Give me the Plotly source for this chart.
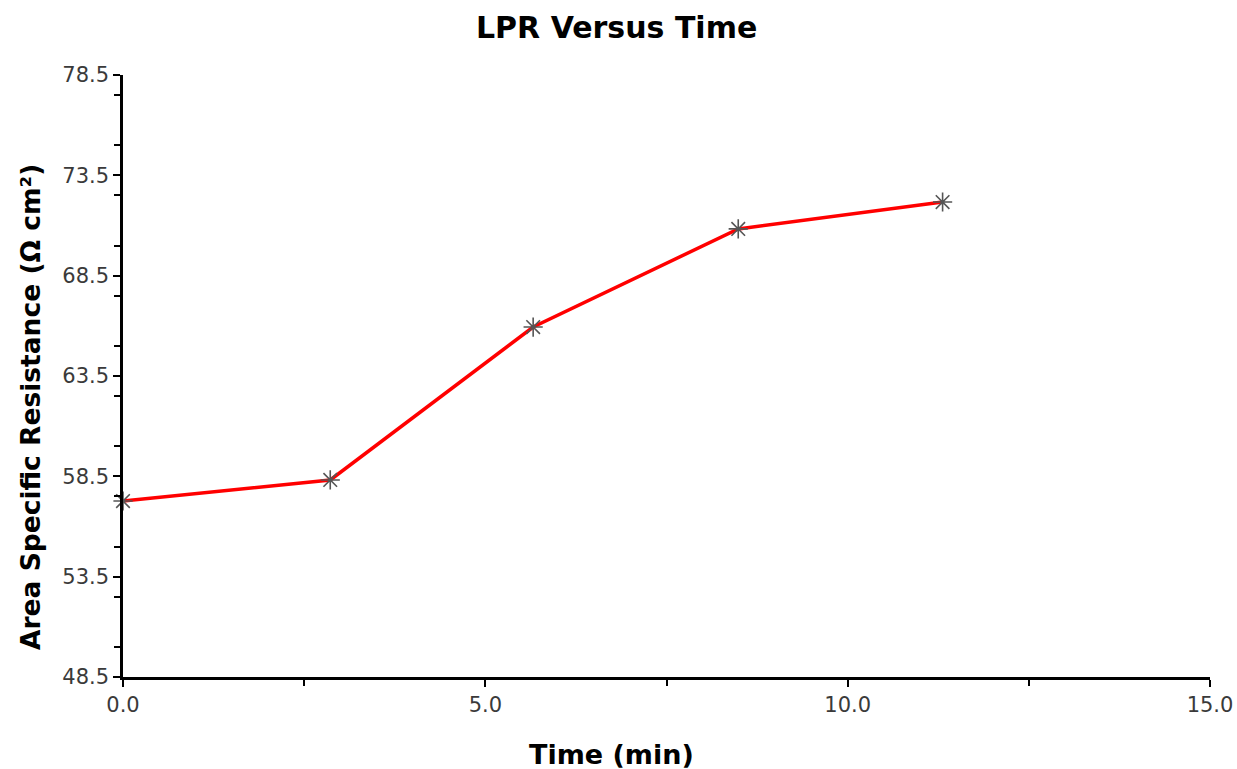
import plotly.graph_objects as go

time_min = [0.0, 2.86, 5.66, 8.49, 11.31]
asr = [57.27, 58.32, 65.94, 70.83, 72.17]

x_ticks = [0.0, 5.0, 10.0, 15.0]
x_tick_labels = ["0.0", "5.0", "10.0", "15.0"]
y_ticks = [48.5, 53.5, 58.5, 63.5, 68.5, 73.5, 78.5]
y_tick_labels = ["48.5", "53.5", "58.5", "63.5", "68.5", "73.5", "78.5"]

FONT = "DejaVu Sans"
TICK_COLOR = "#3a3a3a"
W, H = 1237, 769
L, R, T, B = 123, 27, 75, 92
PW, PH = W - L - R, H - T - B

fig = go.Figure()
fig.add_trace(go.Scatter(
    x=time_min, y=asr, mode="lines+markers",
    line=dict(color="#ff0000", width=3.5),
    marker=dict(symbol="asterisk-open", size=16, color="#555555",
                line=dict(color="#3c3c3c", width=1.6)),
    cliponaxis=False, showlegend=False,
))

fig.update_layout(
    width=W, height=H,
    paper_bgcolor="white", plot_bgcolor="white",
    margin=dict(l=L, r=R, t=T, b=B, autoexpand=False),
    font=dict(family=FONT),
    annotations=[
        dict(text="<b>LPR Versus Time</b>", xref="paper", yref="paper",
             x=(616 - L) / PW, y=1 + (T - 28) / PH,
             xanchor="center", yanchor="middle", showarrow=False,
             font=dict(family=FONT, size=30, color="black")),
        dict(text="<b>Time (min)</b>", xref="paper", yref="paper",
             x=(611 - L) / PW, y=-(754 - (H - B)) / PH,
             xanchor="center", yanchor="middle", showarrow=False,
             font=dict(family=FONT, size=27, color="black")),
        dict(text="<b>Area Specific Resistance (Ω cm²)</b>", xref="paper", yref="paper",
             x=-(L - 30) / PW, y=((H - B) - 407) / PH, textangle=-90,
             xanchor="center", yanchor="middle", showarrow=False,
             font=dict(family=FONT, size=26.5, color="black")),
    ],
)
fig.update_xaxes(
    range=[0, 15], tickvals=x_ticks, ticktext=x_tick_labels, automargin=False,
    showgrid=False, zeroline=False, showline=True, linecolor="black", linewidth=2.5,
    ticks="outside", ticklen=7, tickwidth=2, tickcolor="black",
    minor=dict(dtick=2.5, ticks="outside", ticklen=6, tickwidth=2, tickcolor="black", showgrid=False),
    tickfont=dict(family=FONT, size=21, color=TICK_COLOR),
)
fig.update_yaxes(
    range=[48.5, 78.5], tickvals=y_ticks, ticktext=y_tick_labels, automargin=False,
    showgrid=False, zeroline=False, showline=True, linecolor="black", linewidth=2.5,
    ticks="outside", ticklen=7, tickwidth=2, tickcolor="black",
    minor=dict(dtick=2.5, ticks="outside", ticklen=6, tickwidth=2, tickcolor="black", showgrid=False),
    tickfont=dict(family=FONT, size=21, color=TICK_COLOR),
)

fig.write_html("out.html")
